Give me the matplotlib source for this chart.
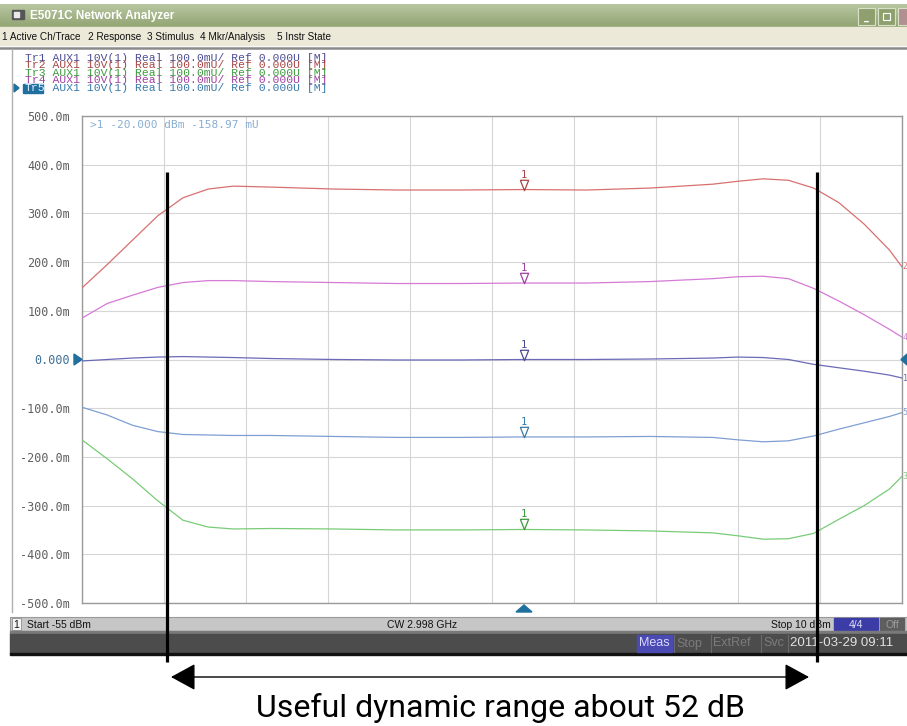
import numpy as np
import matplotlib
matplotlib.use("Agg")
import matplotlib.pyplot as plt
from matplotlib.patches import Rectangle, Polygon
from matplotlib.transforms import offset_copy

# power sweep (dBm) and measured traces (mU)
power_dbm = [-55, -53, -51, -49, -47, -45, -43, -40, -35, -30, -25, -20,
             -15, -10, -5, -3, -1, 1, 3, 5, 7, 9, 10]
tr1 = [-3, 0, 3, 5, 6, 5, 4, 2, 0, -1, -1, 0,
       0, 1, 3, 5, 4, 0, -10, -17, -24, -32, -38]
tr2 = [147, 195, 245, 295, 332, 350, 356, 354, 350, 348, 348, 349,
       348, 352, 360, 366, 371, 368, 352, 322, 278, 225, 190]
tr3 = [-165, -204, -245, -290, -330, -344, -348, -347, -348, -350, -350, -349,
       -350, -352, -356, -362, -369, -368, -357, -328, -300, -266, -240]
tr4 = [85, 115, 132, 148, 158, 162, 162, 160, 158, 156, 156, 157,
       157, 160, 166, 170, 171, 166, 146, 120, 92, 62, 46]
tr5 = [-98, -114, -135, -148, -154, -155, -156, -156, -158, -160, -160, -159,
       -159, -158, -160, -165, -169, -167, -157, -143, -130, -117, -109]

trace_names = ["1", "2", "3", "4", "5"]
trace_values = [tr1, tr2, tr3, tr4, tr5]
line_colors = ["#6a6ab8", "#d87070", "#78cc78", "#d67ad6", "#7f9fd2"]
text_colors = ["#4c4c94", "#a84444", "#3c9a3c", "#a040a0", "#3a7aa8"]

marker_dbm = -20
start_dbm, stop_dbm = -55, 10
ytick_vals = list(range(500, -501, -100))
ytick_labels = ["500.0m", "400.0m", "300.0m", "200.0m", "100.0m", "0.000",
                "-100.0m", "-200.0m", "-300.0m", "-400.0m", "-500.0m"]
range_lines_dbm = [-48.3, 3.3]
caption = "Useful dynamic range about 52 dB"

W, H = 907, 726
MONO = "DejaVu Sans Mono"
HDR = "Liberation Mono"
UI = "Liberation Sans"

fig = plt.figure(figsize=(W / 100, H / 100), dpi=100)

# --- window chrome (pixel coordinates, y down) ---
bg = fig.add_axes([0, 0, 1, 1], zorder=0)
bg.axis("off")
grad = np.linspace(0, 1, 24)[:, None, None] * (np.array([0x92, 0xa5, 0x74]) - np.array([0xb8, 0xc6, 0xa0])) \
    + np.array([0xb8, 0xc6, 0xa0])
bg.imshow(np.repeat(grad / 255.0, 2, axis=1), extent=(0, W, 27, 4), aspect="auto")
bg.set_xlim(0, W)
bg.set_ylim(H, 0)

bg.add_patch(Rectangle((12, 10), 12, 9, color="#555555"))
bg.add_patch(Rectangle((14, 12), 5, 5, color="#e8e8e8"))
bg.text(30, 15.5, "E5071C Network Analyzer", family=UI, weight="bold", size=8.5,
        color="white", va="center")
for bx, c in [(858, "#8fa06e"), (878, "#8fa06e"), (898, "#b09090")]:
    bg.add_patch(Rectangle((bx, 8), 17, 17, facecolor=c, edgecolor="#d8e0c8", lw=0.8))
bg.text(866, 20, "_", color="white", size=7, ha="center", weight="bold")
bg.add_patch(Rectangle((883, 13), 7, 7, fill=False, edgecolor="white", lw=0.8))

bg.add_patch(Rectangle((0, 27), W, 18, color="#ece9d8"))
for mx, label in [(2, "1 Active Ch/Trace"), (88, "2 Response"), (147, "3 Stimulus"),
                  (200, "4 Mkr/Analysis"), (277, "5 Instr State")]:
    bg.text(mx, 36.5, label, family=UI, size=7.2, color="#111111", va="center")
bg.plot([0, W], [47.5, 47.5], color="#8a8a8a", lw=1.8)
bg.plot([12, 12], [49, 612], color="#b0b0b0", lw=1.0)

for i, n in enumerate(trace_names):
    yy = 58 + i * 7.4
    tag = f"Tr{n}" if n != "5" else "   "
    bg.text(25, yy, f"{tag} AUX1 10V(1) Real 100.0mU/ Ref 0.000U [M]",
            family=HDR, size=8.2, color=text_colors[i], va="center")
bg.add_patch(Rectangle((23, 84), 20, 8.5, color="#1f6f9f"))
bg.text(25, 87.6, "Tr5", family=HDR, size=8.2, color="#dfefff", va="center")
bg.add_patch(Polygon([(14, 84), (14, 92), (19, 88)], color="#1f6f9f"))

# status bars
bg.add_patch(Rectangle((10, 617), W - 10, 14, facecolor="#c6c6c6", edgecolor="#9a9a9a", lw=0.8))
bg.add_patch(Rectangle((12, 618), 9, 12, facecolor="#f4f4f4", edgecolor="#909090", lw=0.6))
bg.text(16.5, 624.5, "1", family=UI, size=7.5, ha="center", va="center", color="#111111")
bg.text(27, 624.5, "Start -55 dBm", family=UI, size=7.5, va="center", color="#111111")
bg.text(422, 624.5, "CW 2.998 GHz", family=UI, size=7.5, ha="center", va="center", color="#111111")
bg.text(831, 624.5, "Stop 10 dBm", family=UI, size=7.5, ha="right", va="center", color="#111111")
bg.add_patch(Rectangle((834, 618), 44, 12, color="#3c3ca6"))
bg.text(856, 624.5, "4/4", family=UI, size=7.5, ha="center", va="center", color="#e0e0ff")
bg.add_patch(Rectangle((880, 618), 24, 12, color="#5e5e5e"))
bg.text(892, 624.5, "Off", family=UI, size=7.5, ha="center", va="center", color="#9a9a9a")

bg.add_patch(Rectangle((10, 631), W - 10, 2.5, color="#7a7a7a"))
bg.add_patch(Rectangle((10, 633.5), W - 10, 20, color="#4c4c4c"))
bg.add_patch(Rectangle((10, 653), W - 10, 2, color="#111111"))
bg.add_patch(Rectangle((637, 635), 35, 17, color="#4a4ab2"))
bg.text(654.5, 643.5, "Meas", family=UI, size=9, ha="center", va="center", color="#d8d8ff")
for sx, label in [(676, "Stop"), (713, "ExtRef"), (763, "Svc")]:
    bg.text(sx, 643.5, label, family=UI, size=9, va="center", color="#7c7c7c")
for sx in [673.5, 710.5, 760.5, 787.5]:
    bg.plot([sx, sx], [635, 652], color="#6a6a6a", lw=0.8)
bg.text(790, 643.5, "2011-03-29 09:11", family=UI, size=9.5, va="center", color="#e2e2e2")

# --- measurement graticule ---
ax = fig.add_axes([82 / W, 1 - 603 / H, 820 / W, 487 / H], zorder=1)
ax.set_xlim(start_dbm, stop_dbm)
ax.set_ylim(-500, 500)
ax.set_xticks(np.linspace(start_dbm, stop_dbm, 11))
ax.set_yticks(ytick_vals)
ax.set_yticklabels(ytick_labels, family=MONO, size=8.5, color="#606060")
ax.get_yticklabels()[5].set_color("#3f6f94")
ax.set_xticklabels([])
ax.tick_params(length=0, pad=8.5)
ax.grid(True, color="#d6d6d6", lw=0.8)
for s in ax.spines.values():
    s.set_color("#9a9a9a")
    s.set_linewidth(1.0)

for i, vals in enumerate(trace_values):
    ax.plot(power_dbm, vals, color=line_colors[i], lw=0.9, zorder=3)
    my = np.interp(marker_dbm, power_dbm, vals)
    tri = offset_copy(ax.transData, fig=fig, x=0, y=5, units="dots")
    ax.plot([marker_dbm], [my], transform=tri, marker=[(-0.4, 0.5), (0.4, 0.5), (0, -0.5), (-0.4, 0.5)],
            ms=7.5, mfc="none", mec=text_colors[i], mew=0.9, zorder=4)
    ax.annotate("1", (marker_dbm, my), xytext=(0, 15), textcoords="offset pixels",
                ha="center", va="center", family=MONO, size=7.5, color=text_colors[i])
    ax.annotate(trace_names[i], (stop_dbm, vals[-1]), xytext=(0.5, 0), textcoords="offset pixels",
                ha="left", va="center", family=MONO, size=6, color=line_colors[i],
                annotation_clip=False)

# --- overlays ---
ov = fig.add_axes([0, 0, 1, 1], zorder=5)
ov.set_xlim(0, W)
ov.set_ylim(H, 0)
ov.patch.set_alpha(0)
ov.axis("off")

ov.text(90, 125, ">1 -20.000 dBm -158.97 mU", family=MONO, size=8, color="#8aaed0", va="center")
ov.add_patch(Polygon([(74, 354), (74, 365), (82, 359.5)], color="#1f6f9f"))
ov.add_patch(Polygon([(907, 354), (907, 365), (901, 359.5)], color="#1f6f9f"))
ov.add_patch(Polygon([(516, 612), (532, 612), (524, 605)], color="#1f6f9f"))

for d in range_lines_dbm:
    px = 82 + (d - start_dbm) / (stop_dbm - start_dbm) * 820
    ov.plot([px, px], [172, 662], color="black", lw=2.3, solid_capstyle="butt")

ov.annotate("", xy=(171, 677), xytext=(809, 677),
            arrowprops=dict(arrowstyle="<|-|>,head_length=0.55,head_width=0.3",
                            mutation_scale=28, color="black", lw=1.0,
                            shrinkA=0, shrinkB=0))
ov.text(501, 708, caption, family="Roboto", size=23, ha="center", va="center", color="black")

fig.savefig("out.png", dpi=100)
